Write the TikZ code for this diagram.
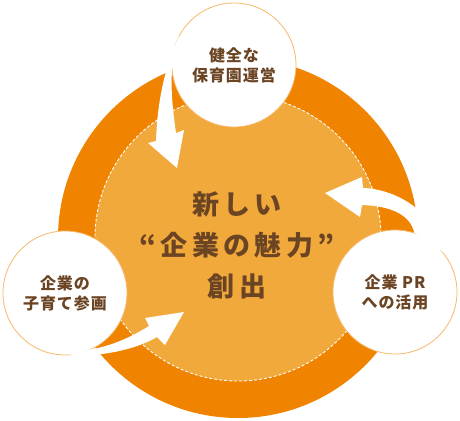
\documentclass[tikz,border=0pt]{standalone}
\usepackage{fontspec}
\newfontfamily\jp{Noto Sans CJK JP}[LetterSpace=6]
\newfontfamily\jpwide{Noto Sans CJK JP}[LetterSpace=16]
\usetikzlibrary{positioning}
\definecolor{ringdark} {HTML}{F08300}
\definecolor{ringlight}{HTML}{F2A93B}
\definecolor{bubbleline}{HTML}{F6B86A}
\definecolor{ink}      {HTML}{6B4423}
\tikzset{
  bubble/.style={
    circle, fill=white, draw=bubbleline, line width=0.8pt,
    minimum size=124pt, inner sep=0pt,
    text=ink, font=\jp\bfseries\fontsize{16pt}{20pt}\selectfont, align=center
  },
  tailarrow/.style={fill=white}
}

\begin{document}
\begin{tikzpicture}[
      x=1pt, y=-1pt,
      ringnode/.style={circle, fill=ringdark, minimum size=360pt, inner sep=0pt},
      corenode/.style={circle, fill=ringlight, draw=white, line width=0.9pt,
                       dash pattern=on 3pt off 2pt, minimum size=286pt, inner sep=0pt},
      titletext/.style={text=ink, font=\jpwide\bfseries\fontsize{27pt}{41pt}\selectfont, align=center}
    ]
    \useasboundingbox (0,0) rectangle (460,420);
    \node[ringnode] (ring) at (238,238) {};
    \node[corenode] (core) at (238,238) {};

    \node[bubble] (top)   at (234,65)  {健全な\\保育園運営};
    \node[bubble] (left)  at (65,293)  {企業の\\子育て参画};
    \node[bubble] (right) at (395,292) {企業 PR\\への活用};

    \coordinate (tiptop)   at (177,168);
    \coordinate (tipleft)  at (184,312);
    \coordinate (tipright) at (325,193);

    % tails of the bubbles
    \fill[tailarrow] (top.151) .. controls (163,70) and (157,108) .. (156,141)
      -- (148,143) -- (tiptop) -- (184,130) -- (176,133)
      .. controls (172,105) and (171,88) .. (top.186) -- cycle;
    \fill[tailarrow] (left.-88) .. controls (100,357) and (135,350) .. (157,337)
      -- (165,345) -- (tipleft) -- (145,318) -- (149,326)
      .. controls (130,338) and (110,346) .. (left.-64) -- cycle;
    \fill[tailarrow] (right.72) .. controls (410,214) and (390,206) .. (362,205)
      -- (360,217) -- (tipright) -- (362,177) -- (363,188)
      .. controls (398,189) and (438,215) .. (right.40) -- cycle;

    \node[titletext] (title) at (237,245) {新しい\\“企業の魅力”\\創出};
  \end{tikzpicture}
\end{document}
